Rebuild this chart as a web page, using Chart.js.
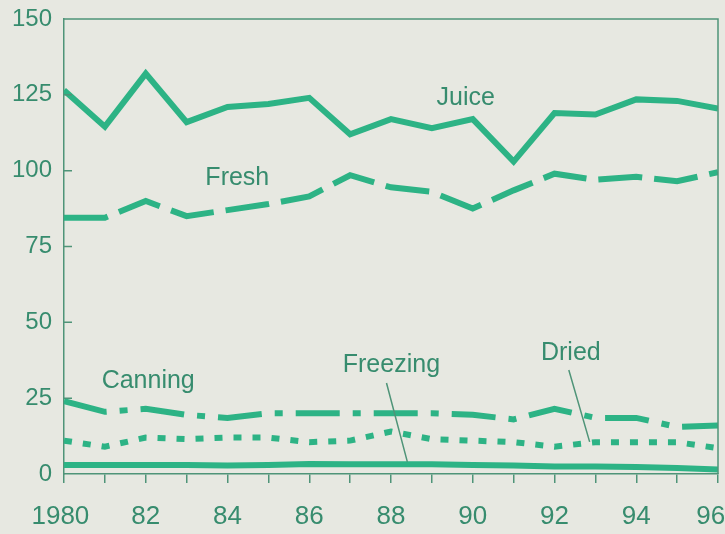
<!DOCTYPE html>
<html>
<head>
<meta charset="utf-8">
<script src="https://cdn.jsdelivr.net/npm/chart.js@4"></script>
<style>
  html, body { margin: 0; padding: 0; background: #e7e8e1; }
  canvas { display: block; }
</style>
</head>
<body>
<canvas id="chart" width="725" height="534"></canvas>
<script>
// years on the x axis
const years = [1980, 1981, 1982, 1983, 1984, 1985, 1986, 1987, 1988, 1989, 1990, 1991, 1992, 1993, 1994, 1995, 1996]
// labels shown under the even years (the edge ones sit a little inward, as printed)
const yearLabels = ['1980 ', '82', '84', '86', '88', '90', '92', '94', '96  ']
const yTicks = [0, 25, 50, 75, 100, 125, 150]

// series values
const juice    = [126.5, 114.5, 132, 116, 121, 122, 124, 112, 117, 114, 117, 103, 119, 118.5, 123.5, 123, 120.5]
const fresh    = [84.5, 84.5, 90, 85, 87, 89, 91.5, 98.5, 94.5, 93, 87.5, 93.5, 99, 97, 98, 96.5, 99.5]
const canning  = [24, 20.5, 21.5, 19.5, 18.5, 20, 20, 20, 20, 20, 19.5, 18, 21.5, 18.5, 18.5, 15.5, 16]
const dried    = [11, 9, 12, 11.5, 12, 12, 10.5, 11, 14, 11.5, 11, 10.5, 9, 10.5, 10.5, 10.5, 8.5]
const freezing = [3, 3, 3, 3, 2.8, 3, 3.3, 3.2, 3.2, 3.2, 3, 2.8, 2.5, 2.5, 2.3, 2, 1.5]

// series names written inside the plot (x = year, y = value)
const notes = [
  { text: 'Juice',    x: 1989.83, y: 124.0 },
  { text: 'Fresh',    x: 1984.24, y: 97.5 },
  { text: 'Canning',  x: 1982.06, y: 30.7 },
  { text: 'Freezing', x: 1988.01, y: 35.8 },
  { text: 'Dried',    x: 1992.40, y: 39.9 }
]
// leader lines from a name to its series
const leaders = [
  { from: [1987.89, 30.0], to: [1988.40, 4.0] },
  { from: [1992.35, 34.3], to: [1992.86, 10.6] }
]

const LINE = '#2db385'
const TEXT = '#378c6e'
const AXIS = '#4f9478'

Chart.defaults.font.family = '"Liberation Sans", Arial, sans-serif'

const pts = (arr) => arr.map((v, i) => ({ x: years[i], y: v }))

function series(data, dash) {
  return {
    data: pts(data),
    borderColor: LINE,
    backgroundColor: LINE,
    borderWidth: 6,
    borderDash: dash,
    borderCapStyle: 'butt',
    borderJoinStyle: 'miter',
    pointRadius: 0,
    tension: 0,
    fill: false
  }
}

// frame, inward y ticks, series names and leader lines
const decor = {
  id: 'decor',
  afterDraw(chart) {
    const { ctx, chartArea: a, scales } = chart
    const x = scales.x, y = scales.y
    ctx.save()
    ctx.strokeStyle = AXIS
    ctx.lineWidth = 1.5
    ctx.beginPath()
    ctx.moveTo(a.left, a.top)
    ctx.lineTo(a.right, a.top)
    ctx.lineTo(a.right, a.bottom)
    yTicks.slice(1, -1).forEach((v) => {
      const py = y.getPixelForValue(v)
      ctx.moveTo(a.left, py)
      ctx.lineTo(a.left + 8, py)
    })
    leaders.forEach((l) => {
      ctx.moveTo(x.getPixelForValue(l.from[0]), y.getPixelForValue(l.from[1]))
      ctx.lineTo(x.getPixelForValue(l.to[0]), y.getPixelForValue(l.to[1]))
    })
    ctx.stroke()

    ctx.fillStyle = TEXT
    ctx.font = '25px "Liberation Sans", Arial, sans-serif'
    ctx.textAlign = 'center'
    ctx.textBaseline = 'middle'
    notes.forEach((n) => {
      ctx.fillText(n.text, x.getPixelForValue(n.x), y.getPixelForValue(n.y))
    })
    ctx.restore()
  }
}

new Chart(document.getElementById('chart'), {
  type: 'line',
  data: {
    datasets: [
      series(juice, []),
      series(fresh, [44, 12]),
      series(canning, [44, 13, 8, 13]),
      series(dried, [8, 11]),
      series(freezing, [])
    ]
  },
  options: {
    responsive: false,
    animation: false,
    devicePixelRatio: 1,
    layout: { padding: { top: 19, right: 7, left: 0, bottom: 0 } },
    plugins: {
      legend: { display: false },
      tooltip: { enabled: false }
    },
    scales: {
      x: {
        type: 'linear',
        min: 1980,
        max: 1996,
        ticks: {
          stepSize: 1,
          autoSkip: false,
          maxRotation: 0,
          color: TEXT,
          font: { size: 26 },
          padding: 18,
          callback: (v) => (v % 2 === 0 ? yearLabels[(v - 1980) / 2] : '')
        },
        grid: { drawOnChartArea: false, tickLength: 9, color: AXIS, lineWidth: 1.5 },
        border: { color: AXIS, width: 1.5 },
        afterFit(s) { s.height = 60; s.paddingLeft = 0; s.paddingRight = 0 }
      },
      y: {
        min: 0,
        max: 150,
        ticks: { stepSize: 25, color: TEXT, font: { size: 24 }, padding: 12 },
        grid: { drawOnChartArea: false, drawTicks: false },
        border: { color: AXIS, width: 1.5 },
        afterFit(s) { s.width = 64; s.paddingTop = 0; s.paddingBottom = 0 }
      }
    }
  },
  plugins: [decor]
})
</script>
</body>
</html>
